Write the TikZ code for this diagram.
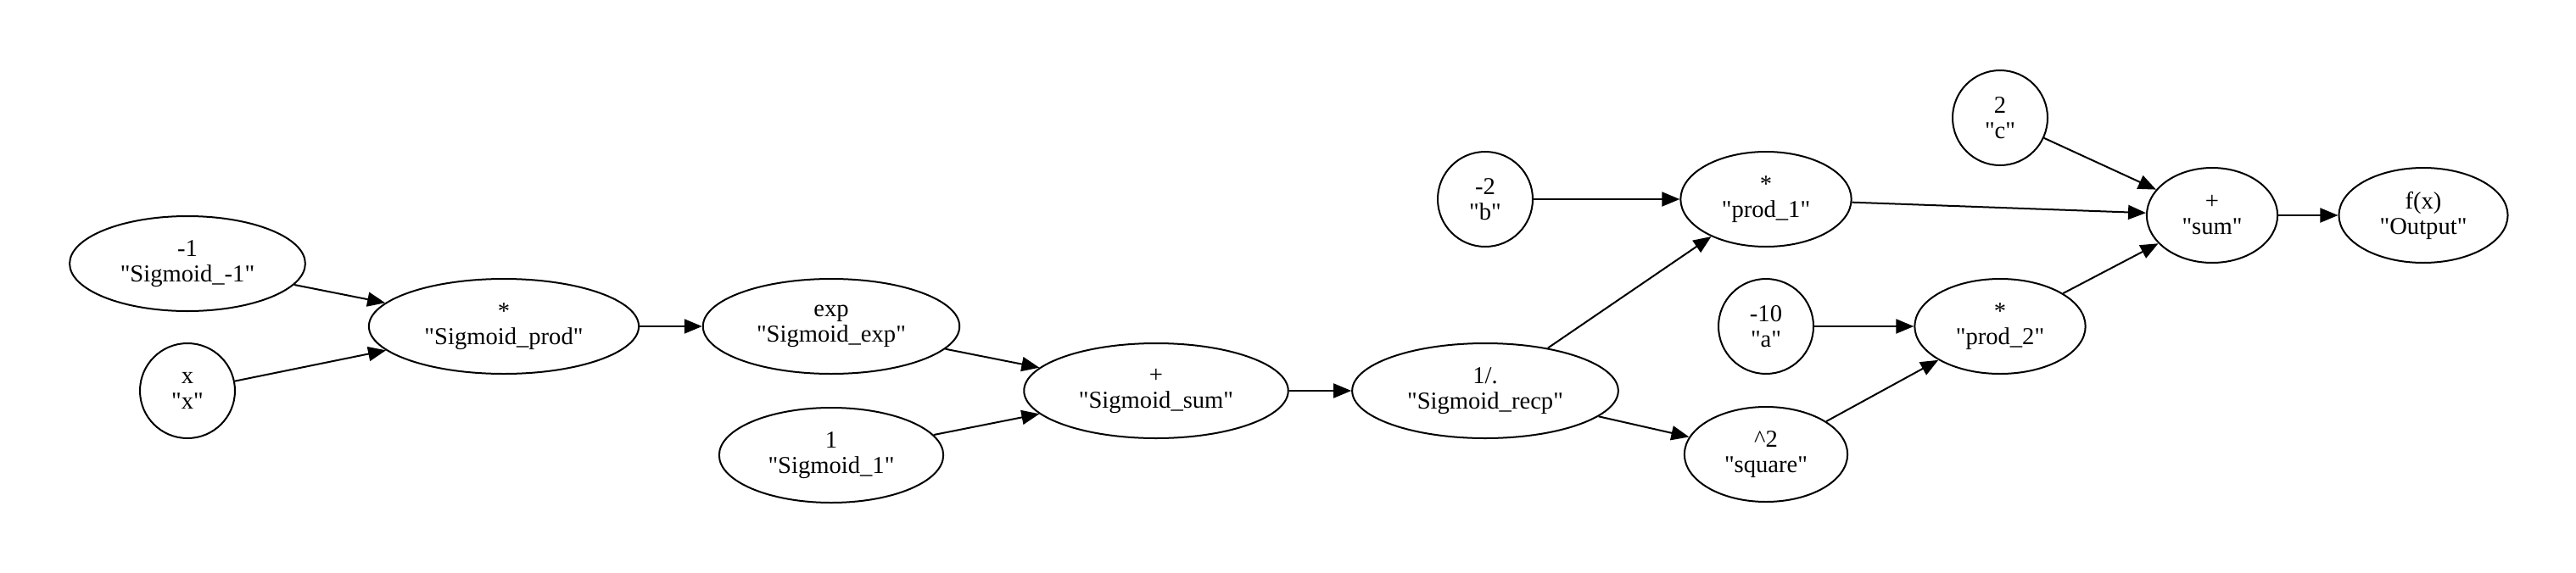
\documentclass[tikz,border=0pt]{standalone}
\usepackage{fontspec}
\setmainfont{Liberation Serif}[Ligatures=TeXOff]
\usepackage{tikz}
\usetikzlibrary{
        arrows.meta,
        positioning,
        shapes.geometric
    }
\tikzset{>={Triangle[length=10.5pt,width=8.5pt]},shorten >=0pt,node distance=2cm}

\begin{document}
\begin{tikzpicture}[>={Triangle[length=10.5pt,width=8.5pt]},line width=1pt,on grid]
                \tikzset{every node/.style={ellipse,draw,align=center,inner xsep=9.5pt,inner ysep=3pt,
                    minimum width=56pt,minimum height=56pt,font=\fontsize{14.3}{15}\selectfont}}
                \useasboundingbox (0,0) rectangle (1518.5pt,-337.5pt);
                \node (prod) at (297pt,-192.5pt) {*\\"Sigmoid\_prod"};
                \node (neg1) [above left=37pt and 186.5pt of prod] {-1\\"Sigmoid\_-1"};
                \node (xin) [below left=38pt and 186.5pt of prod] {x\\"x"};
                \node (expn) [right=193pt of prod] {exp\\"Sigmoid\_exp"};
                \node (one) [below=76pt of expn] {1\\"Sigmoid\_1"};
                \node (ssum) [below right=38pt and 191.5pt of expn] {+\\"Sigmoid\_sum"};
                \node (recp) [right=194pt of ssum] {1/.\\"Sigmoid\_recp"};
                \node (b) [above=113pt of recp] {-2\\"b"};
                \node (prodone) [right=165.5pt of b] {*\\"prod\_1"};
                \node (a) [below=75pt of prodone] {-10\\"a"};
                \node (square) [below=75.5pt of a] {\textasciicircum 2\\"square"};
                \node (prodtwo) [right=138pt of a] {*\\"prod\_2"};
                \node (c) [above=123pt of prodtwo] {2\\"c"};
                \node (sum) [above right=65.5pt and 125pt of prodtwo] {+\\"sum"};
                \node (out) [right=124.5pt of sum] {f(x)\\"Output"};
                \path[->]
                    (neg1)  edge (prod)
                    (xin)  edge (prod)
                    (prod)  edge (expn)
                    (expn)  edge (ssum)
                    (one)  edge (ssum)
                    (ssum)  edge (recp)
                    (recp)  edge (prodone)
                    (recp)  edge (square)
                    (b)  edge (prodone)
                    (a)  edge (prodtwo)
                    (square)  edge (prodtwo)
                    (prodone)  edge (sum)
                    (c)  edge (sum)
                    (prodtwo)  edge (sum)
                    (sum)  edge (out)
                ;
            \end{tikzpicture}
\end{document}
